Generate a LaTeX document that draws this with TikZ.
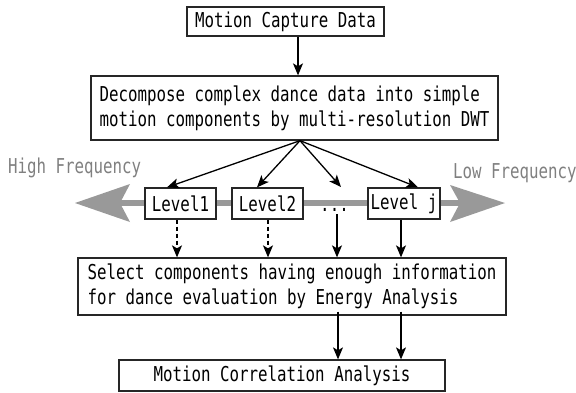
\documentclass[tikz,border=0pt]{standalone}
\usepackage{fontspec}
\newfontfamily\gothic[FakeStretch=0.77]{DejaVu Sans Mono}
\usetikzlibrary{arrows.meta}
\begin{document}
\begin{tikzpicture}[x=1pt,y=-1pt,
  box/.style={draw=black!85,line width=1.3pt,fill=white,inner sep=0pt,align=left,
    font=\gothic\fontsize{20.5}{25}\selectfont},
  arr/.style={-{Stealth[length=12pt,width=10pt,inset=3pt]},line width=1.3pt,draw=black},
  darr/.style={arr,dash pattern=on 4pt off 3pt},
  lbl/.style={font=\gothic\fontsize{20.5}{25}\selectfont,text=black!50,inner sep=0pt},
  band/.style={draw=black!40,line width=6pt},
  bandhead/.style={fill=black!40}]
\useasboundingbox (0,0) rectangle (576,392);

% gray frequency axis
\draw[band] (118,203) -- (462,203);
\fill[bandhead] (75,203) -- (130,184) -- (120,203) -- (130,222) -- cycle;
\fill[bandhead] (505,203) -- (450,185) -- (460,203) -- (450,222) -- cycle;

\node[lbl,anchor=base west] (hf) at (8,173) {High Frequency};
\node[lbl,anchor=base west] (lf) at (453,178) {Low Frequency};

\node[box,minimum width=197pt,minimum height=29pt] (b1) at (285.5,21.5) {Motion Capture Data};
\node[box,minimum width=407pt,minimum height=64pt] (b2) at (294.5,108)
  {Decompose complex dance data into simple\\motion components by multi-resolution DWT};

\node[box,minimum width=71pt,minimum height=31pt] (l1) at (180.5,203.5) {Level1};
\node[box,minimum width=71pt,minimum height=31pt] (l2) at (267.5,203.5) {Level2};
\node[box,minimum width=72pt,minimum height=31pt] (lj) at (404,203.5) {Level j};
\node[font=\gothic\fontsize{20.5}{25}\selectfont,inner sep=0pt,anchor=base] (dots) at (334.5,211) {...};
\coordinate (dtip) at (341,187);

\node[box,minimum width=428pt,minimum height=57pt] (b3) at (292,286.5)
  {Select components having enough information\\for dance evaluation by Energy Analysis};
\node[box,minimum width=326pt,minimum height=31pt] (b4) at (282,375.5) {Motion Correlation Analysis};

% arrows
\draw[arr] ([xshift=12.5pt]b1.south) -- ([xshift=12.5pt]b1.south |- b2.north);
\draw[arr] ([xshift=5.5pt]b2.south) -- ([xshift=-13.5pt]l1.north);
\draw[arr] ([xshift=5.5pt]b2.south) -- ([xshift=-10.5pt]l2.north);
\draw[arr] ([xshift=5.5pt]b2.south) -- (dtip);
\draw[arr] ([xshift=5.5pt]b2.south) -- ([xshift=14pt]lj.north);

\draw[darr] ([xshift=-3.5pt]l1.south) -- ([xshift=-3.5pt]l1.south |- b3.north);
\draw[darr] ([xshift=0.5pt]l2.south) -- ([xshift=0.5pt]l2.south |- b3.north);
\draw[arr] ([xshift=2.5pt,yshift=-3pt]dots.south) -- ([xshift=2.5pt]dots.south |- b3.north);
\draw[arr] ([xshift=-3pt]lj.south) -- ([xshift=-3pt]lj.south |- b3.north);

\draw[arr] ([yshift=4pt]b3.south -| dots.south) ++(3.5pt,0) -- ([xshift=3.5pt]b4.north -| dots.south);
\draw[arr] ([xshift=-3pt,yshift=4pt]b3.south -| lj.south) -- ([xshift=-3pt]b4.north -| lj.south);
\end{tikzpicture}
\end{document}
